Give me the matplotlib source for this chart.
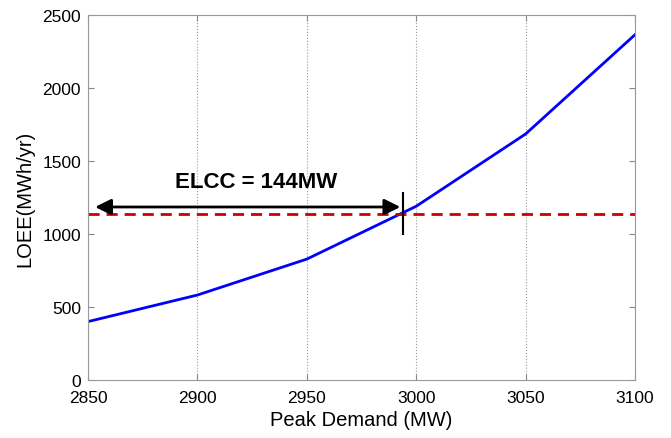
"""LOEE versus peak demand with ELCC annotation."""

import matplotlib
matplotlib.use("Agg")
import matplotlib.pyplot as plt

plt.rcParams["font.family"] = ["Liberation Sans", "DejaVu Sans"]

peak_demand = [2850, 2900, 2950, 3000, 3050, 3100]
loee = [400, 582, 828, 1190, 1685, 2365]
target_loee = 1137
elcc_start = 2852
elcc_end = 2994
elcc_label = "ELCC = 144MW"

fig = plt.figure(figsize=(6.71, 4.39), dpi=100)
ax = fig.add_axes([88 / 671, 1 - 381 / 439, 547 / 671, 365 / 439])

ax.plot(peak_demand, loee, color="#0000ff", lw=2)
ax.axhline(target_loee, color="#cc0000", lw=2, ls=(0, (4, 2.5)))

ax.annotate("", xy=(elcc_end, 1185), xytext=(elcc_start, 1185),
            arrowprops=dict(arrowstyle="<|-|>", color="black", lw=2,
                            mutation_scale=24))
ax.plot([elcc_end, elcc_end], [1000, 1282], color="black", lw=1.5)
ax.text(2927, 1290, elcc_label, ha="center", va="bottom",
        fontsize=16, fontweight="bold")

ax.set_xlim(2850, 3100)
ax.set_ylim(0, 2500)
ax.set_xticks(peak_demand)
ax.set_yticks(range(0, 2501, 500))
ax.grid(axis="x", color="#999999", ls=":", lw=0.8)
ax.tick_params(direction="in", top=True, right=True, labelsize=12.5,
               color="#888888", length=4)
ax.tick_params(axis="x", pad=7)
ax.tick_params(axis="y", pad=5)
for sp in ax.spines.values():
    sp.set_color("#999999")

ax.set_xlabel("Peak Demand (MW)", fontsize=14.5, labelpad=4)
ax.set_ylabel("LOEE(MWh/yr)", fontsize=14.5, labelpad=6)

fig.savefig("out.png", dpi=100)
